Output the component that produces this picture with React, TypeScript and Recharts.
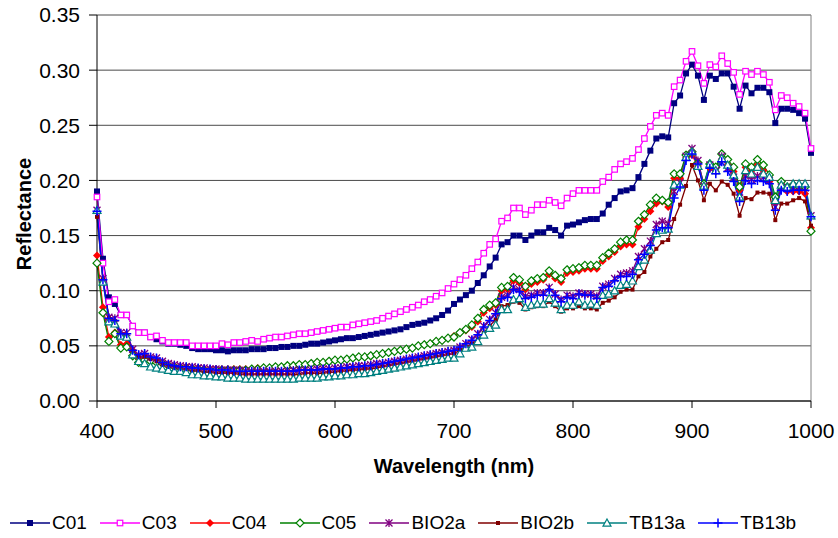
import React from "react";
import { LineChart, Line, XAxis, YAxis, CartesianGrid, ReferenceLine, Legend } from "recharts";

const WAVELENGTHS = [
  400, 405, 410, 415, 420, 425, 430, 435, 440, 445,
  450, 455, 460, 465, 470, 475, 480, 485, 490, 495,
  500, 505, 510, 515, 520, 525, 530, 535, 540, 545,
  550, 555, 560, 565, 570, 575, 580, 585, 590, 595,
  600, 605, 610, 615, 620, 625, 630, 635, 640, 645,
  650, 655, 660, 665, 670, 675, 680, 685, 690, 695,
  700, 705, 710, 715, 720, 725, 730, 735, 740, 745,
  750, 755, 760, 765, 770, 775, 780, 785, 790, 795,
  800, 805, 810, 815, 820, 825, 830, 835, 840, 845,
  850, 855, 860, 865, 870, 875, 880, 885, 890, 895,
  900, 905, 910, 915, 920, 925, 930, 935, 940, 945,
  950, 955, 960, 965, 970, 975, 980, 985, 990, 995,
  1000,
];

const C01 = [
  0.190, 0.129, 0.094, 0.088, 0.078, 0.078, 0.068, 0.062, 0.062, 0.058,
  0.056, 0.054, 0.052, 0.052, 0.051, 0.050, 0.048, 0.047, 0.047, 0.047,
  0.046, 0.046, 0.045, 0.046, 0.046, 0.046, 0.047, 0.047, 0.047, 0.048,
  0.048, 0.049, 0.049, 0.050, 0.050, 0.051, 0.052, 0.052, 0.053, 0.054,
  0.055, 0.056, 0.057, 0.057, 0.058, 0.059, 0.060, 0.061, 0.062, 0.063,
  0.064, 0.065, 0.067, 0.069, 0.070, 0.071, 0.073, 0.075, 0.078, 0.082,
  0.088, 0.092, 0.096, 0.100, 0.107, 0.114, 0.122, 0.130, 0.142, 0.144,
  0.150, 0.150, 0.146, 0.150, 0.153, 0.153, 0.157, 0.155, 0.150, 0.159,
  0.160, 0.162, 0.164, 0.165, 0.165, 0.170, 0.178, 0.184, 0.190, 0.191,
  0.193, 0.203, 0.215, 0.227, 0.238, 0.240, 0.239, 0.270, 0.277, 0.297,
  0.305, 0.295, 0.273, 0.295, 0.292, 0.297, 0.297, 0.285, 0.265, 0.286,
  0.279, 0.284, 0.284, 0.280, 0.252, 0.265, 0.265, 0.264, 0.261, 0.256,
  0.225,
];

const C03 = [
  0.185, 0.125, 0.090, 0.092, 0.078, 0.078, 0.068, 0.062, 0.062, 0.058,
  0.059, 0.055, 0.053, 0.053, 0.053, 0.053, 0.050, 0.050, 0.050, 0.050,
  0.050, 0.052, 0.051, 0.053, 0.053, 0.054, 0.055, 0.054, 0.056, 0.057,
  0.058, 0.058, 0.059, 0.060, 0.061, 0.061, 0.062, 0.063, 0.064, 0.065,
  0.066, 0.067, 0.067, 0.069, 0.070, 0.071, 0.072, 0.073, 0.075, 0.077,
  0.079, 0.081, 0.083, 0.085, 0.087, 0.090, 0.092, 0.095, 0.098, 0.102,
  0.106, 0.110, 0.114, 0.120, 0.126, 0.134, 0.142, 0.147, 0.163, 0.166,
  0.175, 0.175, 0.169, 0.173, 0.178, 0.178, 0.182, 0.180, 0.177, 0.184,
  0.188, 0.191, 0.191, 0.191, 0.191, 0.199, 0.203, 0.210, 0.215, 0.217,
  0.220, 0.228, 0.238, 0.249, 0.259, 0.261, 0.259, 0.285, 0.291, 0.308,
  0.317, 0.304, 0.288, 0.305, 0.303, 0.313, 0.306, 0.298, 0.278, 0.299,
  0.296, 0.299, 0.296, 0.289, 0.264, 0.277, 0.275, 0.270, 0.267, 0.261,
  0.229,
];

const C04 = [
  0.132, 0.085, 0.058, 0.062, 0.051, 0.052, 0.046, 0.039, 0.040, 0.038,
  0.036, 0.035, 0.033, 0.032, 0.031, 0.031, 0.030, 0.030, 0.029, 0.029,
  0.029, 0.029, 0.029, 0.029, 0.029, 0.029, 0.029, 0.030, 0.030, 0.030,
  0.031, 0.031, 0.032, 0.032, 0.033, 0.033, 0.034, 0.035, 0.035, 0.036,
  0.037, 0.037, 0.038, 0.039, 0.040, 0.040, 0.041, 0.042, 0.043, 0.044,
  0.045, 0.046, 0.047, 0.048, 0.050, 0.051, 0.052, 0.054, 0.055, 0.057,
  0.059, 0.062, 0.064, 0.067, 0.072, 0.080, 0.084, 0.087, 0.100, 0.101,
  0.109, 0.107, 0.101, 0.106, 0.108, 0.110, 0.115, 0.111, 0.108, 0.116,
  0.117, 0.118, 0.120, 0.120, 0.120, 0.127, 0.131, 0.135, 0.140, 0.142,
  0.142, 0.158, 0.165, 0.172, 0.179, 0.181, 0.176, 0.202, 0.202, 0.221,
  0.223, 0.213, 0.194, 0.211, 0.208, 0.219, 0.214, 0.208, 0.191, 0.212,
  0.209, 0.214, 0.209, 0.199, 0.181, 0.194, 0.190, 0.190, 0.190, 0.188,
  0.157,
];

const C05 = [
  0.125, 0.080, 0.054, 0.061, 0.048, 0.049, 0.041, 0.035, 0.037, 0.036,
  0.035, 0.034, 0.032, 0.031, 0.030, 0.030, 0.029, 0.029, 0.028, 0.028,
  0.028, 0.028, 0.028, 0.028, 0.028, 0.028, 0.029, 0.029, 0.030, 0.030,
  0.031, 0.031, 0.032, 0.032, 0.033, 0.033, 0.034, 0.035, 0.035, 0.036,
  0.037, 0.037, 0.038, 0.039, 0.040, 0.040, 0.041, 0.042, 0.043, 0.044,
  0.045, 0.046, 0.047, 0.048, 0.050, 0.051, 0.052, 0.054, 0.055, 0.057,
  0.058, 0.062, 0.065, 0.069, 0.075, 0.083, 0.087, 0.089, 0.103, 0.104,
  0.112, 0.110, 0.104, 0.109, 0.111, 0.112, 0.118, 0.114, 0.111, 0.119,
  0.120, 0.121, 0.123, 0.123, 0.123, 0.130, 0.134, 0.138, 0.144, 0.146,
  0.146, 0.163, 0.169, 0.178, 0.184, 0.182, 0.180, 0.206, 0.206, 0.223,
  0.226, 0.216, 0.197, 0.215, 0.212, 0.224, 0.219, 0.212, 0.194, 0.215,
  0.212, 0.219, 0.214, 0.205, 0.185, 0.199, 0.194, 0.196, 0.194, 0.194,
  0.154,
];

const BIO2A = [
  0.173, 0.111, 0.076, 0.075, 0.062, 0.062, 0.047, 0.042, 0.043, 0.040,
  0.039, 0.036, 0.034, 0.033, 0.032, 0.031, 0.031, 0.030, 0.030, 0.029,
  0.029, 0.028, 0.028, 0.028, 0.028, 0.027, 0.027, 0.027, 0.027, 0.027,
  0.027, 0.027, 0.027, 0.028, 0.028, 0.028, 0.028, 0.029, 0.029, 0.029,
  0.030, 0.030, 0.031, 0.031, 0.032, 0.032, 0.033, 0.034, 0.034, 0.035,
  0.036, 0.037, 0.038, 0.039, 0.040, 0.041, 0.042, 0.043, 0.044, 0.045,
  0.046, 0.049, 0.052, 0.056, 0.061, 0.068, 0.074, 0.080, 0.094, 0.096,
  0.103, 0.101, 0.095, 0.096, 0.098, 0.098, 0.103, 0.097, 0.092, 0.096,
  0.095, 0.098, 0.097, 0.097, 0.095, 0.104, 0.106, 0.111, 0.115, 0.116,
  0.118, 0.131, 0.138, 0.145, 0.160, 0.163, 0.161, 0.190, 0.198, 0.222,
  0.229, 0.218, 0.195, 0.214, 0.209, 0.222, 0.211, 0.203, 0.184, 0.204,
  0.201, 0.204, 0.203, 0.200, 0.176, 0.194, 0.193, 0.194, 0.194, 0.193,
  0.168,
];

const BIO2B = [
  0.167, 0.110, 0.075, 0.072, 0.060, 0.060, 0.045, 0.040, 0.040, 0.038,
  0.036, 0.033, 0.031, 0.030, 0.029, 0.028, 0.027, 0.027, 0.026, 0.026,
  0.025, 0.025, 0.025, 0.025, 0.024, 0.024, 0.024, 0.024, 0.024, 0.024,
  0.024, 0.024, 0.024, 0.024, 0.024, 0.025, 0.025, 0.025, 0.025, 0.026,
  0.026, 0.027, 0.027, 0.028, 0.028, 0.029, 0.029, 0.030, 0.031, 0.032,
  0.033, 0.034, 0.035, 0.036, 0.037, 0.038, 0.039, 0.040, 0.041, 0.042,
  0.043, 0.046, 0.049, 0.052, 0.056, 0.062, 0.068, 0.074, 0.086, 0.087,
  0.090, 0.089, 0.083, 0.085, 0.086, 0.086, 0.090, 0.086, 0.081, 0.084,
  0.084, 0.086, 0.084, 0.084, 0.083, 0.089, 0.091, 0.094, 0.099, 0.101,
  0.101, 0.113, 0.117, 0.131, 0.138, 0.144, 0.146, 0.165, 0.178, 0.195,
  0.214, 0.200, 0.182, 0.197, 0.191, 0.199, 0.196, 0.188, 0.168, 0.184,
  0.183, 0.189, 0.189, 0.188, 0.164, 0.179, 0.179, 0.182, 0.184, 0.181,
  0.159,
];

const TB13A = [
  0.173, 0.108, 0.072, 0.070, 0.059, 0.058, 0.042, 0.036, 0.034, 0.031,
  0.030, 0.029, 0.028, 0.027, 0.027, 0.026, 0.024, 0.024, 0.023, 0.023,
  0.022, 0.022, 0.021, 0.021, 0.021, 0.020, 0.020, 0.020, 0.020, 0.020,
  0.020, 0.020, 0.020, 0.020, 0.021, 0.021, 0.021, 0.021, 0.022, 0.022,
  0.023, 0.023, 0.024, 0.024, 0.025, 0.025, 0.026, 0.027, 0.028, 0.029,
  0.030, 0.031, 0.032, 0.033, 0.034, 0.035, 0.036, 0.037, 0.038, 0.039,
  0.039, 0.043, 0.048, 0.049, 0.054, 0.060, 0.066, 0.069, 0.083, 0.083,
  0.092, 0.093, 0.085, 0.087, 0.088, 0.088, 0.093, 0.089, 0.083, 0.087,
  0.087, 0.090, 0.087, 0.088, 0.087, 0.096, 0.097, 0.100, 0.105, 0.106,
  0.109, 0.122, 0.128, 0.137, 0.152, 0.155, 0.156, 0.196, 0.196, 0.221,
  0.226, 0.213, 0.195, 0.215, 0.209, 0.220, 0.214, 0.205, 0.185, 0.209,
  0.206, 0.212, 0.206, 0.203, 0.182, 0.196, 0.194, 0.197, 0.197, 0.197,
  0.168,
];

const TB13B = [
  0.172, 0.110, 0.075, 0.073, 0.061, 0.061, 0.046, 0.042, 0.043, 0.040,
  0.039, 0.035, 0.033, 0.032, 0.031, 0.031, 0.030, 0.030, 0.029, 0.029,
  0.028, 0.028, 0.028, 0.027, 0.027, 0.027, 0.027, 0.027, 0.027, 0.027,
  0.027, 0.027, 0.027, 0.027, 0.028, 0.028, 0.028, 0.028, 0.029, 0.029,
  0.029, 0.030, 0.030, 0.031, 0.031, 0.032, 0.032, 0.033, 0.034, 0.035,
  0.036, 0.037, 0.038, 0.039, 0.040, 0.041, 0.042, 0.043, 0.044, 0.045,
  0.046, 0.049, 0.052, 0.055, 0.060, 0.067, 0.073, 0.079, 0.093, 0.094,
  0.101, 0.099, 0.093, 0.094, 0.096, 0.096, 0.101, 0.096, 0.090, 0.094,
  0.093, 0.097, 0.096, 0.096, 0.093, 0.103, 0.104, 0.109, 0.113, 0.113,
  0.115, 0.128, 0.133, 0.141, 0.155, 0.157, 0.157, 0.184, 0.194, 0.218,
  0.224, 0.215, 0.191, 0.211, 0.206, 0.217, 0.208, 0.199, 0.181, 0.200,
  0.197, 0.200, 0.199, 0.197, 0.173, 0.191, 0.190, 0.191, 0.191, 0.191,
  0.167,
];

const X_TICKS = [400, 500, 600, 700, 800, 900, 1000];
const Y_TICKS = [0, 0.05, 0.1, 0.15, 0.2, 0.25, 0.3, 0.35];

type MarkerKind = "square" | "squareOpen" | "diamond" | "diamondOpen" | "star" | "dash" | "triangleOpen" | "plus";

const SERIES: { key: string; name: string; values: number[]; color: string; marker: MarkerKind }[] = [
  { key: "c01", name: "C01", values: C01, color: "#000080", marker: "square" },
  { key: "c03", name: "C03", values: C03, color: "#FF00FF", marker: "squareOpen" },
  { key: "c04", name: "C04", values: C04, color: "#FF0000", marker: "diamond" },
  { key: "c05", name: "C05", values: C05, color: "#008000", marker: "diamondOpen" },
  { key: "bio2a", name: "BIO2a", values: BIO2A, color: "#800080", marker: "star" },
  { key: "bio2b", name: "BIO2b", values: BIO2B, color: "#800000", marker: "dash" },
  { key: "tb13a", name: "TB13a", values: TB13A, color: "#008080", marker: "triangleOpen" },
  { key: "tb13b", name: "TB13b", values: TB13B, color: "#0000FF", marker: "plus" },
];

const rows = WAVELENGTHS.map((wl, i) => {
  const row: Record<string, number> = { wl };
  SERIES.forEach((s) => (row[s.key] = s.values[i]));
  return row;
});

const FONT = "'Liberation Sans', Arial, sans-serif";

function Marker({ kind, color, cx, cy }: { kind: MarkerKind; color: string; cx: number; cy: number }) {
  switch (kind) {
    case "square":
      return <rect x={cx - 3} y={cy - 3} width={6} height={6} fill={color} />;
    case "squareOpen":
      return <rect x={cx - 2.75} y={cy - 2.75} width={5.5} height={5.5} fill="#fff" stroke={color} strokeWidth={1.2} />;
    case "diamond":
      return <polygon points={`${cx},${cy - 4} ${cx + 4},${cy} ${cx},${cy + 4} ${cx - 4},${cy}`} fill={color} />;
    case "diamondOpen":
      return (
        <polygon
          points={`${cx},${cy - 4} ${cx + 4},${cy} ${cx},${cy + 4} ${cx - 4},${cy}`}
          fill="#fff"
          stroke={color}
          strokeWidth={1.2}
        />
      );
    case "star":
      return (
        <path
          d={`M${cx - 3.5},${cy - 3.5}L${cx + 3.5},${cy + 3.5}M${cx - 3.5},${cy + 3.5}L${cx + 3.5},${cy - 3.5}M${cx},${cy - 4}L${cx},${cy + 4}`}
          stroke={color}
          strokeWidth={1.3}
        />
      );
    case "dash":
      return <rect x={cx - 2} y={cy - 2} width={4} height={4} fill={color} />;
    case "triangleOpen":
      return (
        <polygon
          points={`${cx},${cy - 4} ${cx + 4},${cy + 3.2} ${cx - 4},${cy + 3.2}`}
          fill="#fff"
          stroke={color}
          strokeWidth={1.2}
        />
      );
    case "plus":
      return (
        <path d={`M${cx - 4.5},${cy}L${cx + 4.5},${cy}M${cx},${cy - 4.5}L${cx},${cy + 4.5}`} stroke={color} strokeWidth={1.5} />
      );
  }
}

const makeDot = (kind: MarkerKind, color: string, key: string) => (props: any) => {
  const { cx, cy, index } = props;
  if (cx == null || cy == null) return <g key={`${key}-${index}`} />;
  return (
    <g key={`${key}-${index}`}>
      <Marker kind={kind} color={color} cx={cx} cy={cy} />
    </g>
  );
};

function LegendRow() {
  return (
    <div style={{ display: "flex", alignItems: "center", fontFamily: FONT, fontSize: 19, color: "#000" }}>
      {SERIES.map((s) => (
        <div key={s.key} style={{ display: "flex", alignItems: "center", marginRight: 12 }}>
          <svg width={42} height={20}>
            <line x1={1} y1={10} x2={41} y2={10} stroke={s.color} strokeWidth={1.5} />
            <Marker kind={s.marker} color={s.color} cx={21} cy={10} />
          </svg>
          <span style={{ marginLeft: 1 }}>{s.name}</span>
        </div>
      ))}
    </div>
  );
}

export default function App() {
  return (
    <div style={{ position: "absolute", left: 0, top: 0, width: 838, height: 538, background: "#fff" }}>
      <LineChart width={838} height={538} data={rows} margin={{ top: 15, right: 27, left: 0, bottom: 67 }}>
        <CartesianGrid vertical={false} stroke="#4a4a4a" />
        <XAxis
          dataKey="wl"
          type="number"
          domain={[400, 1000]}
          ticks={X_TICKS}
          height={70}
          tickSize={7}
          tickMargin={15}
          stroke="#000"
          tick={{ fill: "#000", fontSize: 21, fontFamily: FONT }}
          label={({ viewBox }: any) => (
            <text
              x={viewBox.x + viewBox.width / 2}
              y={viewBox.y + 72}
              textAnchor="middle"
              fontFamily={FONT}
              fontSize={20}
              fontWeight="bold"
              fill="#000"
            >
              Wavelength (nm)
            </text>
          )}
        />
        <YAxis
          type="number"
          domain={[0, 0.35]}
          ticks={Y_TICKS}
          width={97}
          tickSize={8}
          tickMargin={9}
          stroke="#000"
          tickFormatter={(v: number) => v.toFixed(2)}
          tick={{ fill: "#000", fontSize: 21, fontFamily: FONT }}
          label={() => (
            <text
              x={24}
              y={214}
              transform="rotate(-90, 24, 214)"
              textAnchor="middle"
              dominantBaseline="central"
              fontFamily={FONT}
              fontSize={20}
              fontWeight="bold"
              fill="#000"
            >
              Reflectance
            </text>
          )}
        />
        <ReferenceLine x={1000} stroke="#808080" />
        {SERIES.map((s) => (
          <Line
            key={s.key}
            dataKey={s.key}
            name={s.name}
            type="linear"
            stroke={s.color}
            strokeWidth={1.3}
            dot={makeDot(s.marker, s.color, s.key)}
            activeDot={false}
            isAnimationActive={false}
          />
        ))}
        <Legend
          layout="horizontal"
          verticalAlign="middle"
          align="center"
          content={() => <LegendRow />}
          wrapperStyle={{ top: 512, left: 9, width: 829 }}
        />
      </LineChart>
    </div>
  );
}
